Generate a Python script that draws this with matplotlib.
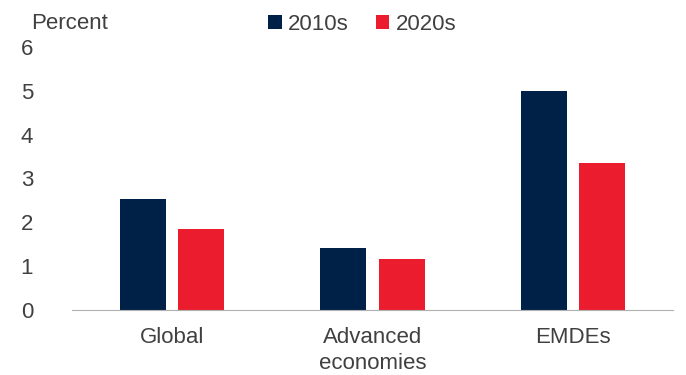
import matplotlib.pyplot as plt
import numpy as np

plt.rcParams['font.family'] = ['Liberation Sans', 'DejaVu Sans']

categories = ['Global', 'Advanced\neconomies', 'EMDEs']
series_names = ['2010s', '2020s']
vals_2010s = [2.54, 1.42, 5.0]
vals_2020s = [1.85, 1.17, 3.36]
colors = ['#002147', '#EB1C2D']
txt = '#404040'

fig = plt.figure(figsize=(6.86, 3.75), dpi=100)
ax = fig.add_axes([0.105, 0.173, 0.876, 0.702])

x = np.arange(len(categories))
w = 0.23
ax.bar(x - 0.145, vals_2010s, w, color=colors[0], label=series_names[0])
ax.bar(x + 0.145, vals_2020s, w, color=colors[1], label=series_names[1])

ax.set_xlim(-0.5, 2.5)
ax.set_ylim(0, 6)
ax.set_yticks(range(0, 7))
ax.set_xticks(x)
ax.set_xticklabels(categories, fontsize=16, color=txt, linespacing=1.3)
ax.tick_params(axis='y', length=0, labelsize=16, labelcolor=txt, pad=28)
ax.tick_params(axis='x', length=0, pad=12)
for s in ['top', 'right', 'left']:
    ax.spines[s].set_visible(False)
ax.spines['bottom'].set_color('#b0b0b0')

fig.text(0.045, 0.938, 'Percent', fontsize=16, color=txt, va='center')
fig.legend(loc='center', bbox_to_anchor=(0.528, 0.936), ncol=2, frameon=False,
           fontsize=16, handlelength=0.6, handleheight=0.6, handletextpad=0.3,
           columnspacing=1.2, labelcolor=txt)

fig.savefig('out.png', dpi=100)
